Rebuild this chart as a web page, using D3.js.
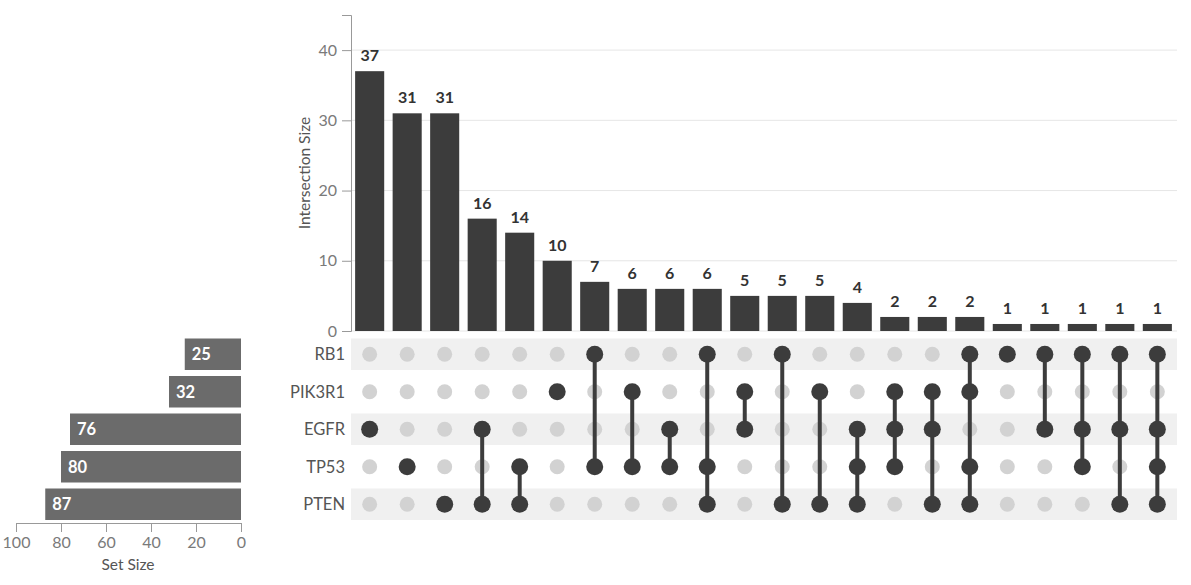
<!DOCTYPE html>
<html>
<head>
<meta charset="utf-8">
<script src="https://cdn.jsdelivr.net/npm/d3@7"></script>
<style>
  body { margin: 0; background: #fff; }
  svg { font-family: Lato, "Open Sans", sans-serif; }
</style>
</head>
<body>
<script>
// sets, top to bottom in the matrix
var sets = ['RB1', 'PIK3R1', 'EGFR', 'TP53', 'PTEN'];
var setSizes = [25, 32, 76, 80, 87];

// intersections, left to right
var counts = [37, 31, 31, 16, 14, 10, 7, 6, 6, 6, 5, 5, 5, 4, 2, 2, 2, 1, 1, 1, 1, 1];
var members = [
  ['EGFR'], ['TP53'], ['PTEN'], ['EGFR', 'PTEN'], ['TP53', 'PTEN'], ['PIK3R1'],
  ['RB1', 'TP53'], ['PIK3R1', 'TP53'], ['EGFR', 'TP53'], ['RB1', 'TP53', 'PTEN'],
  ['PIK3R1', 'EGFR'], ['RB1', 'PTEN'], ['PIK3R1', 'PTEN'], ['EGFR', 'TP53', 'PTEN'],
  ['PIK3R1', 'EGFR', 'TP53'], ['PIK3R1', 'EGFR', 'PTEN'], ['RB1', 'PIK3R1', 'TP53', 'PTEN'],
  ['RB1'], ['RB1', 'EGFR'], ['RB1', 'EGFR', 'TP53'], ['RB1', 'EGFR', 'PTEN'],
  ['RB1', 'EGFR', 'TP53', 'PTEN']
];
var yTicks = [0, 10, 20, 30, 40];
var setTicks = [100, 80, 60, 40, 20, 0];

var W = 1191, H = 585;
var dark = '#3c3c3c', light = '#d2d2d2', stripe = '#f0f0f0';

var svg = d3.select('body').append('svg')
    .attr('width', W).attr('height', H);

var cols = counts.map(function(d, i) { return i; });

var x = d3.scaleBand().domain(cols).range([351, 1176]).paddingInner(0.225).paddingOuter(0.11);
var y = d3.scaleLinear().domain([0, 45]).range([331, 15]);
var row = d3.scaleBand().domain(sets).range([335.5, 523]).paddingInner(0.16).paddingOuter(0.08);
var sx = d3.scaleLinear().domain([0, 100]).range([241, 16]);

// grid lines
svg.append('g').selectAll('line')
  .data(yTicks)
  .enter().append('line')
  .attr('x1', 351).attr('x2', 1177)
  .attr('y1', function(d) { return y(d); })
  .attr('y2', function(d) { return y(d); })
  .attr('stroke', '#e6e6e6').attr('stroke-width', 1);

// intersection size axis
var yAxis = svg.append('g')
    .attr('transform', 'translate(351,0)')
    .call(d3.axisLeft(y).tickValues(yTicks).tickSize(9).tickPadding(5));
yAxis.select('.domain').attr('stroke', '#999');
yAxis.selectAll('.tick line').attr('stroke', '#999');
yAxis.selectAll('.tick text')
    .attr('fill', '#7a7a7a').style('font-size', '16px').style('font-family', 'Lato');

svg.append('text')
  .attr('transform', 'translate(310,173) rotate(-90)')
  .attr('text-anchor', 'middle')
  .attr('fill', '#555')
  .style('font-size', '15.5px')
  .text('Intersection Size');

// intersection bars
var bars = svg.append('g').selectAll('g')
  .data(counts)
  .enter().append('g');

bars.append('rect')
  .attr('x', function(d, i) { return x(i); })
  .attr('y', function(d) { return y(d); })
  .attr('width', x.bandwidth())
  .attr('height', function(d) { return y(0) - y(d); })
  .attr('fill', dark);

bars.append('text')
  .attr('x', function(d, i) { return x(i) + x.bandwidth() / 2; })
  .attr('y', function(d) { return y(d) - 10; })
  .attr('text-anchor', 'middle')
  .attr('fill', '#333')
  .style('font-size', '16px').style('font-weight', 'bold')
  .text(function(d) { return d; });

// matrix stripes
svg.append('g').selectAll('rect')
  .data(sets.filter(function(s, i) { return i % 2 === 0; }))
  .enter().append('rect')
  .attr('x', 351).attr('width', 826)
  .attr('y', function(d) { return row(d); })
  .attr('height', row.bandwidth())
  .attr('fill', stripe);

// set labels
svg.append('g').selectAll('text')
  .data(sets)
  .enter().append('text')
  .attr('x', 345)
  .attr('y', function(d) { return row(d) + row.bandwidth() / 2; })
  .attr('dy', '0.35em')
  .attr('text-anchor', 'end')
  .attr('fill', '#555')
  .style('font-size', '16.5px')
  .text(function(d) { return d; });

// empty dots
var cells = [];
cols.forEach(function(c) {
  sets.forEach(function(s) {
    cells.push({ col: c, set: s, on: members[c].indexOf(s) >= 0 });
  });
});
var cy = function(s) { return row(s) + row.bandwidth() / 2; };
var cx = function(c) { return x(c) + x.bandwidth() / 2; };

svg.append('g').selectAll('circle')
  .data(cells.filter(function(d) { return !d.on; }))
  .enter().append('circle')
  .attr('cx', function(d) { return cx(d.col); })
  .attr('cy', function(d) { return cy(d.set); })
  .attr('r', 7.5)
  .attr('fill', light);

// connectors
svg.append('g').selectAll('line')
  .data(cols.filter(function(c) { return members[c].length > 1; }))
  .enter().append('line')
  .attr('x1', cx).attr('x2', cx)
  .attr('y1', function(c) { return d3.min(members[c], cy); })
  .attr('y2', function(c) { return d3.max(members[c], cy); })
  .attr('stroke', dark).attr('stroke-width', 4);

svg.append('g').selectAll('circle')
  .data(cells.filter(function(d) { return d.on; }))
  .enter().append('circle')
  .attr('cx', function(d) { return cx(d.col); })
  .attr('cy', function(d) { return cy(d.set); })
  .attr('r', 8.5)
  .attr('fill', dark);

// set size bars
var sb = svg.append('g').selectAll('g')
  .data(setSizes)
  .enter().append('g');

sb.append('rect')
  .attr('x', function(d) { return sx(d); })
  .attr('y', function(d, i) { return row(sets[i]); })
  .attr('width', function(d) { return sx(0) - sx(d); })
  .attr('height', row.bandwidth())
  .attr('fill', '#6b6b6b');

sb.append('text')
  .attr('x', function(d) { return sx(d) + 7; })
  .attr('y', function(d, i) { return row(sets[i]) + row.bandwidth() / 2; })
  .attr('dy', '0.35em')
  .attr('fill', '#fff')
  .style('font-size', '16.5px').style('font-weight', 'bold')
  .text(function(d) { return d; });

var xAxis = svg.append('g')
    .attr('transform', 'translate(0,523)')
    .call(d3.axisBottom(sx).tickValues(setTicks).tickSize(9).tickPadding(5).tickSizeOuter(0));
xAxis.select('.domain').attr('stroke', '#999');
xAxis.selectAll('.tick line').attr('stroke', '#999');
xAxis.selectAll('.tick text')
    .attr('fill', '#7a7a7a').style('font-size', '16px').style('font-family', 'Lato');

svg.append('text')
  .attr('x', 128).attr('y', 570)
  .attr('text-anchor', 'middle')
  .attr('fill', '#555')
  .style('font-size', '15.5px')
  .text('Set Size');
</script>
</body>
</html>
